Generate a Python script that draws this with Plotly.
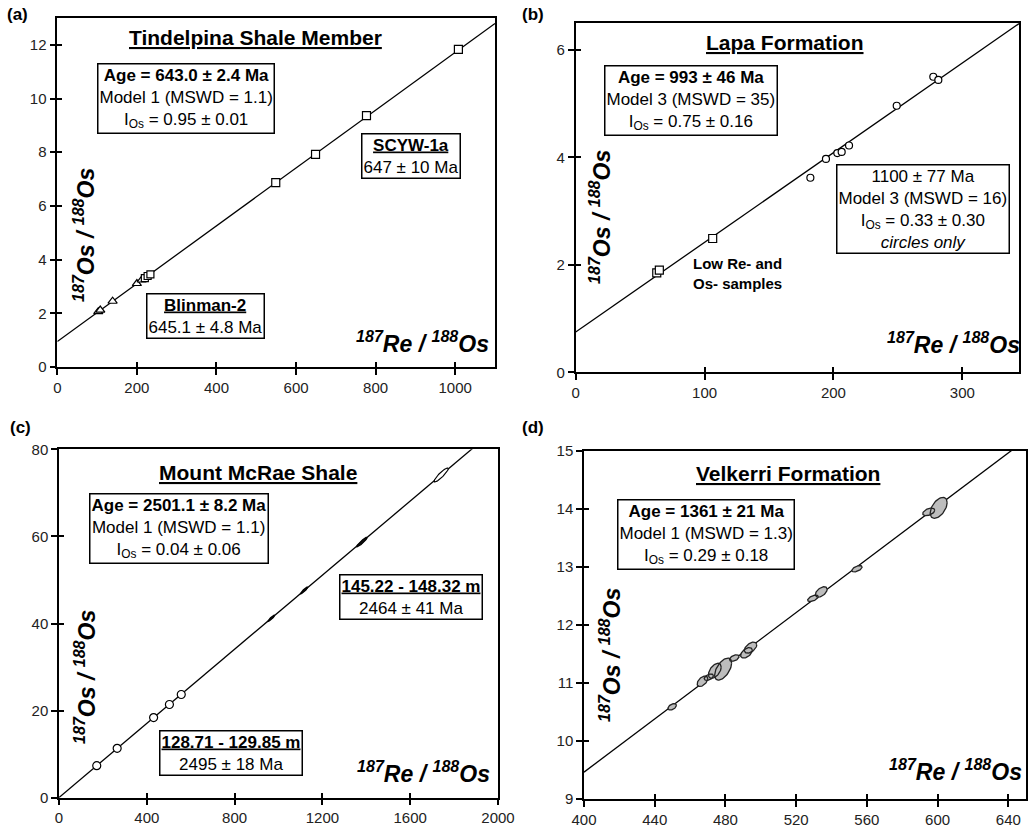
import numpy as np
import plotly.graph_objects as go

LAMBDA_PER_MA = 1.666e-5  # 187Re decay constant (1/Ma)

# ---------------- Panel (a) Tindelpina Shale Member ----------------
a_scyw_re = [549, 649, 777, 1008]
a_scyw_os = [6.87, 7.92, 9.36, 11.83]
a_blin_tri_re = [103, 108, 139, 200, 212]
a_blin_tri_os = [2.06, 2.12, 2.45, 3.11, 3.24]
a_blin_sq_re = [220, 227, 234]
a_blin_sq_os = [3.31, 3.39, 3.45]
a_age, a_ios = 643.0, 0.95

# ---------------- Panel (b) Lapa Formation ----------------
b_sq_re = [62.9, 64.9, 106.3]
b_sq_os = [1.85, 1.90, 2.49]
b_ci_re = [182.1, 194.2, 203.0, 206.4, 212.1, 249.1, 277.5, 281.4]
b_ci_os = [3.62, 3.97, 4.08, 4.10, 4.22, 4.96, 5.50, 5.44]
b_age, b_ios = 993.0, 0.75

# ---------------- Panel (c) Mount McRae Shale ----------------
c_ci_re = [172, 265, 431, 503, 557]
c_ci_os = [7.35, 11.34, 18.4, 21.4, 23.7]
c_el_re = [967, 1117, 1380, 1741]
c_el_os = [41.2, 47.6, 58.7, 74.1]
c_el_ere = [16, 17, 24, 32]          # 2-sigma Re/Os
c_el_eos = [0.75, 0.8, 1.1, 1.6]     # 2-sigma Os/Os
c_el_rho = [0.93, 0.93, 0.93, 0.9]
c_el_filled = [True, True, True, False]
c_age, c_ios = 2501.1, 0.04

# ---------------- Panel (d) Velkerri Formation ----------------
d_el_re = [449.9, 467.0, 470.6, 474.0, 478.7, 485.0, 491.9, 494.2, 529.5, 534.2, 554.4, 595.0, 600.6]
d_el_os = [10.59, 11.03, 11.10, 11.21, 11.24, 11.43, 11.52, 11.61, 12.46, 12.57, 12.97, 13.95, 14.02]
d_el_ere = [2.4, 3.0, 2.6, 3.6, 4.8, 2.7, 3.3, 3.5, 3.0, 3.3, 2.9, 3.4, 4.8]
d_el_eos = [0.055, 0.09, 0.055, 0.13, 0.19, 0.055, 0.09, 0.095, 0.055, 0.09, 0.055, 0.065, 0.18]
d_el_rho = [0.45, 0.5, 0.45, 0.5, 0.55, 0.45, 0.5, 0.5, 0.55, 0.5, 0.55, 0.45, 0.5]
d_age, d_ios = 1361.0, 0.29

# axis ranges / ticks
a_xr, a_yr, a_dx, a_dy = [0, 1100], [0, 13], 200, 2
b_xr, b_yr, b_dx, b_dy = [0, 344], [0, 6.5], 100, 2
c_xr, c_yr, c_dx, c_dy = [0, 2000], [0, 80], 400, 20
d_xr, d_yr, d_dx, d_dy = [400, 650], [9, 15], 40, 1

W, H = 1029, 832
FONT = "Liberation Sans, Arial, Helvetica, sans-serif"


def px(x):
    return x / W


def py(y):
    return 1 - y / H


def isochron(age, ios, xr):
    m = np.exp(LAMBDA_PER_MA * age) - 1
    xs = np.array([xr[0], xr[1]], dtype=float)
    return xs, ios + m * xs


def ellipses(cx, cy, ex, ey, rho):
    t = np.linspace(0, 2 * np.pi, 61)
    X, Y = [], []
    for x0, y0, a, b, r in zip(cx, cy, ex, ey, rho):
        X += list(x0 + a * np.cos(t)) + [None]
        Y += list(y0 + b * (r * np.cos(t) + np.sqrt(1 - r * r) * np.sin(t))) + [None]
    return X, Y


fig = go.Figure()

line_style = dict(color="black", width=1.3)
open_mk = lambda sym, size: dict(symbol=sym, size=size, color="white",
                                 line=dict(color="black", width=1.2))

# (a)
lx, ly = isochron(a_age, a_ios, a_xr)
fig.add_trace(go.Scatter(x=lx, y=ly, mode="lines", line=line_style, xaxis="x", yaxis="y"))
fig.add_trace(go.Scatter(x=a_blin_tri_re, y=a_blin_tri_os, mode="markers",
                         marker=open_mk("triangle-up", 8), xaxis="x", yaxis="y"))
fig.add_trace(go.Scatter(x=a_blin_sq_re, y=a_blin_sq_os, mode="markers",
                         marker=open_mk("square", 7), xaxis="x", yaxis="y"))
fig.add_trace(go.Scatter(x=a_scyw_re, y=a_scyw_os, mode="markers",
                         marker=open_mk("square", 8), xaxis="x", yaxis="y"))

# (b)
lx, ly = isochron(b_age, b_ios, b_xr)
fig.add_trace(go.Scatter(x=lx, y=ly, mode="lines", line=line_style, xaxis="x2", yaxis="y2"))
fig.add_trace(go.Scatter(x=b_sq_re, y=b_sq_os, mode="markers",
                         marker=open_mk("square", 8), xaxis="x2", yaxis="y2"))
fig.add_trace(go.Scatter(x=b_ci_re, y=b_ci_os, mode="markers",
                         marker=open_mk("circle", 7), xaxis="x2", yaxis="y2"))

# (c)
lx, ly = isochron(c_age, c_ios, c_xr)
fig.add_trace(go.Scatter(x=lx, y=ly, mode="lines", line=line_style, xaxis="x3", yaxis="y3"))
fig.add_trace(go.Scatter(x=c_ci_re, y=c_ci_os, mode="markers",
                         marker=open_mk("circle", 8), xaxis="x3", yaxis="y3"))
for filled, fillc in [(True, "#111"), (False, "white")]:
    sel = [i for i, f in enumerate(c_el_filled) if f == filled]
    ex, ey = ellipses([c_el_re[i] for i in sel], [c_el_os[i] for i in sel],
                      [c_el_ere[i] for i in sel], [c_el_eos[i] for i in sel],
                      [c_el_rho[i] for i in sel])
    fig.add_trace(go.Scatter(x=ex, y=ey, mode="lines", fill="toself", fillcolor=fillc,
                             line=dict(color="black", width=1.2), xaxis="x3", yaxis="y3"))

# (d)
lx, ly = isochron(d_age, d_ios, d_xr)
fig.add_trace(go.Scatter(x=lx, y=ly, mode="lines", line=line_style, xaxis="x4", yaxis="y4"))
ex, ey = ellipses(d_el_re, d_el_os, d_el_ere, d_el_eos, d_el_rho)
fig.add_trace(go.Scatter(x=ex, y=ey, mode="lines", fill="toself", fillcolor="#bdbdbd",
                         line=dict(color="#222", width=1.3), xaxis="x4", yaxis="y4"))

# empty traces so the overlay (inside-tick) axes get drawn
for k in range(5, 9):
    fig.add_trace(go.Scatter(x=[], y=[], xaxis=f"x{k}", yaxis=f"y{k}"))


def main_axis(rng, dtick, domain, anchor):
    return dict(range=rng, tick0=rng[0], dtick=dtick, domain=domain, anchor=anchor,
                showline=True, linecolor="black", linewidth=1.5, mirror=True,
                ticks="outside", ticklen=6, tickwidth=1.5, tickcolor="black",
                showgrid=False, zeroline=False, automargin=False,
                tickfont=dict(family=FONT, size=15, color="#222"))


def over_axis(rng, dtick, over, anchor):
    return dict(range=rng, tick0=rng[0], dtick=dtick, overlaying=over, anchor=anchor,
                ticks="inside", ticklen=5, tickwidth=1.5, tickcolor="black",
                showticklabels=False, showline=False, showgrid=False, zeroline=False,
                automargin=False)


dom = {
    1: ([px(57.3), px(495)], [py(367), py(18)]),
    2: ([px(575.7), px(1019)], [py(372.3), py(23)]),
    3: ([px(59), px(498)], [py(797.7), py(449.3)]),
    4: ([px(584), px(1026)], [py(799), py(451)]),
}
specs = {1: (a_xr, a_yr, a_dx, a_dy), 2: (b_xr, b_yr, b_dx, b_dy),
         3: (c_xr, c_yr, c_dx, c_dy), 4: (d_xr, d_yr, d_dx, d_dy)}

layout_axes = {}
for k in range(1, 5):
    xr, yr, dx, dy = specs[k]
    sx = "" if k == 1 else str(k)
    layout_axes[f"xaxis{sx}"] = main_axis(xr, dx, dom[k][0], f"y{sx}")
    layout_axes[f"yaxis{sx}"] = main_axis(yr, dy, dom[k][1], f"x{sx}")
    layout_axes[f"xaxis{k+4}"] = over_axis(xr, dx, f"x{sx}", f"y{k+4}")
    layout_axes[f"yaxis{k+4}"] = over_axis(yr, dy, f"y{sx}", f"x{k+4}")

fig.update_layout(**layout_axes)

ann = []


def text(x, y, s, size=17, align="center", box=False, xanchor="center", angle=0):
    d = dict(x=px(x), y=py(y), xref="paper", yref="paper", text=s, showarrow=False,
             xanchor=xanchor, yanchor="middle", align=align, textangle=angle,
             font=dict(family=FONT, size=size, color="black"))
    if box:
        d.update(bordercolor="black", borderwidth=1.5, borderpad=1, bgcolor="white")
    ann.append(d)


IOS = "I<sub>Os</sub>"
XLAB = "<b><i><sup>187</sup>Re / <sup>188</sup>Os</i></b>"
YLAB = "<b><i><sup>187</sup>Os / <sup>188</sup>Os</i></b>"

# panel letters
text(17, 15, "<b>(a)</b>", size=17)
text(533, 15, "<b>(b)</b>", size=17)
text(20, 428, "<b>(c)</b>", size=17)
text(533, 428, "<b>(d)</b>", size=17)

# (a)
text(255, 38, "<b><u>Tindelpina Shale Member</u></b>", size=21)
text(186, 99, "<b>Age = 643.0 ± 2.4 Ma</b><br>Model 1 (MSWD = 1.1)<br>" + IOS + " = 0.95 ± 0.01", box=True)
text(411, 156, "<b><u>SCYW-1a</u></b><br>647 ± 10 Ma", box=True)
text(205, 316, "<b><u>Blinman-2</u></b><br>645.1 ± 4.8 Ma", box=True)
text(422, 342, XLAB, size=23)
text(84, 235, YLAB, size=23, angle=-90)

# (b)
text(785, 42, "<b><u>Lapa Formation</u></b>", size=21)
text(691, 101, "<b>Age = 993 ± 46 Ma</b><br>Model 3 (MSWD = 35)<br>" + IOS + " = 0.75 ± 0.16", box=True)
text(923, 209, "1100 ± 77 Ma<br>Model 3 (MSWD = 16)<br>" + IOS + " = 0.33 ± 0.30<br><i>circles only</i>", box=True)
text(691, 273, "<b>Low Re- and<br>Os- samples</b>", size=15, align="left", xanchor="left")
text(953, 343, XLAB, size=23)
text(600, 217, YLAB, size=23, angle=-90)

# (c)
text(258, 472, "<b><u>Mount McRae Shale</u></b>", size=21)
text(179, 528, "<b>Age = 2501.1 ± 8.2 Ma</b><br>Model 1 (MSWD = 1.1)<br>" + IOS + " = 0.04 ± 0.06", box=True)
text(411, 597, "<b><u>145.22 - 148.32 m</u></b><br>2464 ± 41 Ma", box=True)
text(231, 753, "<b><u>128.71 - 129.85 m</u></b><br>2495 ± 18 Ma", box=True)
text(423, 772, XLAB, size=23)
text(85, 677, YLAB, size=23, angle=-90)

# (d)
text(788, 473, "<b><u>Velkerri Formation</u></b>", size=21)
text(706, 534, "<b>Age = 1361 ± 21 Ma</b><br>Model 1 (MSWD = 1.3)<br>" + IOS + " = 0.29 ± 0.18", box=True)
text(955, 770, XLAB, size=23)
text(610, 655, YLAB, size=23, angle=-90)

fig.update_layout(annotations=ann, width=W, height=H, showlegend=False,
                  margin=dict(l=0, r=0, t=0, b=0), plot_bgcolor="white",
                  paper_bgcolor="white", font=dict(family=FONT, color="black"))

fig.write_html("out.html", config={"displayModeBar": False},
               post_script="document.body.style.margin='0';document.body.style.overflow='hidden';")
